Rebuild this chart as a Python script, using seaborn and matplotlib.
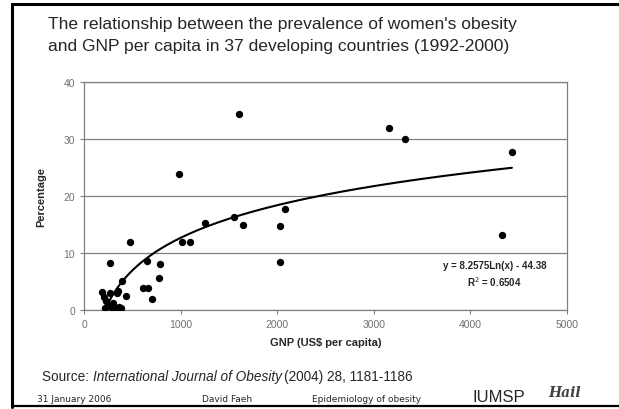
import numpy as np
import pandas as pd
import matplotlib.pyplot as plt
from matplotlib.lines import Line2D
import seaborn as sns

# GNP (US$ per capita) and obesity prevalence (%) for the 37 countries
gnp = [1603, 986, 472, 1010, 1096, 1251, 1551, 1647, 2079, 2027,
       2027, 269, 648, 786, 779, 613, 665, 706, 438, 393,
       3157, 3320, 4429, 4326, 355, 345, 190, 270, 210, 230,
       250, 220, 280, 300, 320, 360, 380]
pct = [34.3, 23.9, 12.0, 12.0, 12.0, 15.2, 16.3, 15.0, 17.7, 14.7,
       8.5, 8.2, 8.6, 8.0, 5.6, 3.8, 3.8, 2.0, 2.5, 5.1,
       31.9, 30.0, 27.7, 13.2, 3.4, 2.9, 3.1, 3.0, 2.2, 1.5,
       0.8, 0.3, 0.5, 1.2, 0.4, 0.6, 0.3]

# logarithmic trendline as printed on the chart
coef_a = 8.2575
coef_b = -44.38
trend_from, trend_to = 215, 4430

x_ticks = [0, 1000, 2000, 3000, 4000, 5000]
y_ticks = [0, 10, 20, 30, 40]

df = pd.DataFrame({'GNP': gnp, 'Percentage': pct})
tx = np.linspace(trend_from, trend_to, 300)
trend = pd.DataFrame({'GNP': tx, 'Percentage': coef_a * np.log(tx) + coef_b})

sns.set_style('white')
plt.rcParams['font.family'] = ['Liberation Sans', 'DejaVu Sans']

fig = plt.figure(figsize=(6.19, 4.10), dpi=100)
ax = fig.add_axes([84 / 619, 1 - 311 / 410, (567 - 84) / 619, (311 - 83) / 410])

sns.lineplot(data=trend, x='GNP', y='Percentage', color='black', linewidth=1.5, ax=ax)
sns.scatterplot(data=df, x='GNP', y='Percentage', color='black', s=28,
                edgecolor='black', linewidth=0, ax=ax, zorder=3)

ax.set_xlim(0, 5000)
ax.set_ylim(0, 40)
ax.set_xticks(x_ticks)
ax.set_yticks(y_ticks)
ax.yaxis.grid(True, color='#808080', linewidth=0.9)
ax.set_axisbelow(True)
for s in ax.spines.values():
    s.set_color('#808080')
    s.set_linewidth(0.9)
ax.tick_params(axis='both', labelsize=7.5, labelcolor='#707070', colors='#808080',
               length=3, width=0.8, direction='out', bottom=True, left=True)
ax.set_xlabel('GNP (US$ per capita)', fontsize=8, fontweight='bold', labelpad=6)
ax.set_ylabel('Percentage', fontsize=8, fontweight='bold', labelpad=12)

ax.text(0.85, 0.197, 'y = 8.2575Ln(x) - 44.38', transform=ax.transAxes,
        ha='center', va='center', fontsize=7, fontweight='bold')
ax.text(0.85, 0.127, r'R$^2$ = 0.6504', transform=ax.transAxes,
        ha='center', va='center', fontsize=7, fontweight='bold')

fig.text(48 / 619, 1 - 25 / 410,
         "The relationship between the prevalence of women's obesity",
         fontsize=12.6, va='center', ha='left')
fig.text(48 / 619, 1 - 47 / 410,
         "and GNP per capita in 37 developing countries (1992-2000)",
         fontsize=12.6, va='center', ha='left')

# source line: normal + italic + normal
src = fig.text(42 / 619, 1 - 377 / 410, 'Source: ', fontsize=9.8, va='center')
fig.canvas.draw()
r = fig.canvas.get_renderer()
bb = src.get_window_extent(r)
it = fig.text(bb.x1 / 619, 1 - 377 / 410, 'International Journal of Obesity',
              fontsize=9.8, style='italic', va='center')
bb2 = it.get_window_extent(r)
fig.text(bb2.x1 / 619 + 0.004, 1 - 377 / 410, '(2004) 28, 1181-1186',
         fontsize=9.8, va='center')

fy = 1 - 400 / 410
fig.text(37 / 619, fy, '31 January 2006', fontsize=6.5, va='center', family='DejaVu Sans')
fig.text(202 / 619, fy, 'David Faeh', fontsize=6.5, va='center', family='DejaVu Sans')
fig.text(312 / 619, fy, 'Epidemiology of obesity', fontsize=6.5, va='center', family='DejaVu Sans')
fig.text(472 / 619, 1 - 398 / 410, 'IUMSP', fontsize=12, va='center')
fig.text(548 / 619, 1 - 393 / 410, 'Hail', fontsize=10, va='center',
         style='italic', fontweight='bold', color='#404040', family='DejaVu Serif')

# slide frame
fig.add_artist(Line2D([12 / 619, 12 / 619], [0.005, 1 - 5 / 410], color='black', linewidth=2.2))
fig.add_artist(Line2D([12 / 619, 1], [1 - 5 / 410, 1 - 5 / 410], color='black', linewidth=2.2))
fig.add_artist(Line2D([12 / 619, 1], [1 - 407 / 410, 1 - 407 / 410], color='black', linewidth=1.6))

fig.savefig('out.png', dpi=100)
